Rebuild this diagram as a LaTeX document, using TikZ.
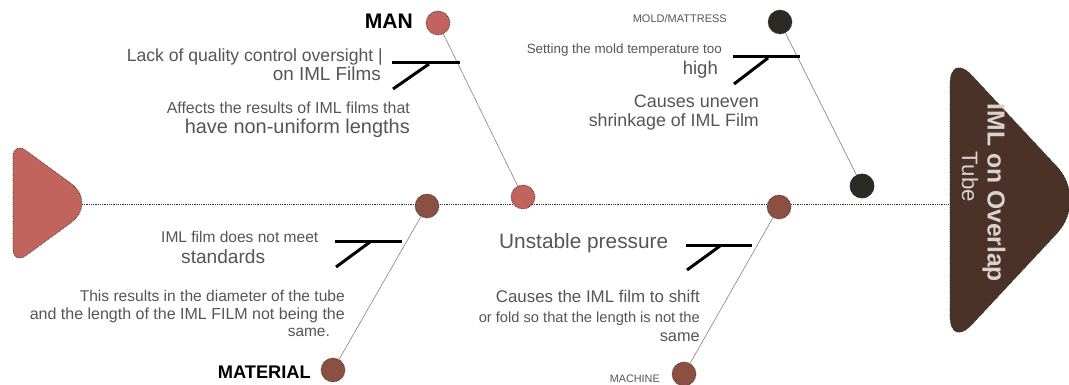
\documentclass[tikz,border=0pt]{standalone}
\usepackage{graphicx}
\usepackage{fontspec}
\setmainfont{Liberation Sans}
\newcommand{\fw}[2]{\resizebox{#1pt}{!}{#2}}
\definecolor{pinkc}{RGB}{193,100,94}
\definecolor{brownc}{RGB}{139,80,66}
\definecolor{darkc}{RGB}{43,42,37}
\definecolor{headc}{RGB}{75,50,40}
\definecolor{txt}{RGB}{85,85,85}
\definecolor{headtxt}{RGB}{220,210,205}
\begin{document}
\begin{tikzpicture}[x=1pt,y=-1pt,
  bead/.style={circle, minimum size=24pt, inner sep=0pt, draw=black!85, densely dotted, line width=0.7pt},
  bone/.style={draw=black!55, line width=0.5pt},
  tick/.style={line width=3pt, black},
  lbl/.style={inner sep=0pt, text=txt},
  cat/.style={inner sep=0pt, text=black, font=\bfseries},
  headshape/.style={draw=black!85, densely dotted, line width=0.7pt}]
\useasboundingbox (0,0) rectangle (1069,385);
% heads
\filldraw[headshape, fill=pinkc]
  (13,203) [rounded corners=16pt] -- (13,141) [rounded corners=34pt] -- (98,203)
  [rounded corners=16pt] -- (13,265) [sharp corners] -- cycle;
\coordinate (tail) at (82,204);
\filldraw[headshape, fill=headc]
  (950,200) [rounded corners=32pt] -- (950,52) [rounded corners=45pt] -- (1088,200)
  [rounded corners=32pt] -- (950,348) [sharp corners] -- cycle;
\coordinate (head) at (950,204);
\node[inner sep=0pt, rotate=-90, text=headtxt, font=\bfseries] (effect) at (994,193) {\fw{178}{IML on Overlap}};
\node[inner sep=0pt, rotate=-90, text=headtxt] (effect2) at (970,177) {\fw{50}{Tube}};
% spine
\draw[black!80, densely dotted, line width=0.8pt] (tail) -- (head);
% beads
\node[bead, fill=pinkc] (man) at (438,23) {};
\node[bead, fill=pinkc] (s1) at (523,197) {};
\node[bead, fill=darkc] (mold) at (780,22) {};
\node[bead, fill=darkc, draw=darkc, solid] (s2) at (862,186) {};
\node[bead, fill=brownc] (s3) at (427,206) {};
\node[bead, fill=brownc] (mat) at (333,370) {};
\node[bead, fill=brownc] (s4) at (779,207) {};
\node[bead, fill=brownc] (mach) at (684,374) {};
% bones
\draw[bone] (man) -- (s1);
\draw[bone] (mold) -- (s2);
\draw[bone] (s3) -- (mat);
\draw[bone] (s4) -- (mach);
% markers
\coordinate (m1a) at (392,63); \coordinate (m1b) at (460,63);
\coordinate (m1c) at (393,89); \coordinate (m1d) at (429,64);
\draw[tick] (m1a) -- (m1b); \draw[tick] (m1c) -- (m1d);
\coordinate (m2a) at (733,57); \coordinate (m2b) at (800,57);
\coordinate (m2c) at (734,84); \coordinate (m2d) at (768,58);
\draw[tick] (m2a) -- (m2b); \draw[tick] (m2c) -- (m2d);
\coordinate (m3a) at (335,241); \coordinate (m3b) at (402,241);
\coordinate (m3c) at (336,267); \coordinate (m3d) at (370,242);
\draw[tick] (m3a) -- (m3b); \draw[tick] (m3c) -- (m3d);
\coordinate (m4a) at (686,245); \coordinate (m4b) at (752,245);
\coordinate (m4c) at (687,270); \coordinate (m4d) at (720,246);
\draw[tick] (m4a) -- (m4b); \draw[tick] (m4c) -- (m4d);
% category labels
\node[cat, anchor=base east] (tman) at (413,29) {\fw{48}{MAN}};
\node[cat, anchor=base east] (tmat) at (311,378) {\fw{93}{MATERIAL}};
\node[lbl, anchor=base east] (tmold) at (727,23) {\fw{94}{MOLD/MATTRESS}};
\node[lbl, anchor=base east] (tmach) at (660,382) {\fw{50}{MACHINE}};
% MAN texts
\node[lbl, anchor=base east] (a1) at (383,62) {\fw{256}{Lack of quality control oversight |}};
\node[lbl, anchor=base east] (a2) at (381,81) {\fw{108}{on IML Films}};
\node[lbl, anchor=base east] (a3) at (410,114) {\fw{243}{Affects the results of IML films that}};
\node[lbl, anchor=base east] (a4) at (410,134) {\fw{225}{have non-uniform lengths}};
% MOLD texts
\node[lbl, anchor=base east] (b1) at (722,54) {\fw{195}{Setting the mold temperature too}};
\node[lbl, anchor=base east] (b2) at (718,75) {\fw{35}{high}};
\node[lbl, anchor=base east] (b3) at (759,108) {\fw{125}{Causes uneven}};
\node[lbl, anchor=base east] (b4) at (759,127) {\fw{170}{shrinkage of IML Film}};
% MATERIAL texts
\node[lbl, anchor=base west] (c1) at (161,242) {\fw{157}{IML film does not meet}};
\node[lbl, anchor=base west] (c2) at (181,263) {\fw{84}{standards}};
\node[lbl, anchor=base east] (c3) at (345,301) {\fw{265}{This results in the diameter of the tube}};
\node[lbl, anchor=base east] (c4) at (345,319) {\fw{315}{and the length of the IML FILM not being the}};
\node[lbl, anchor=base east] (c5) at (330,336) {\fw{42}{same.}};
% MACHINE texts
\node[lbl, anchor=base west] (d1) at (499,248) {\fw{169}{Unstable pressure}};
\node[lbl, anchor=base east] (d2) at (700,302) {\fw{204}{Causes the IML film to shift}};
\node[lbl, anchor=base east] (d3) at (700,322) {\fw{221}{or fold so that the length is not the}};
\node[lbl, anchor=base east] (d4) at (700,341) {\fw{40}{same}};
\end{tikzpicture}
\end{document}
